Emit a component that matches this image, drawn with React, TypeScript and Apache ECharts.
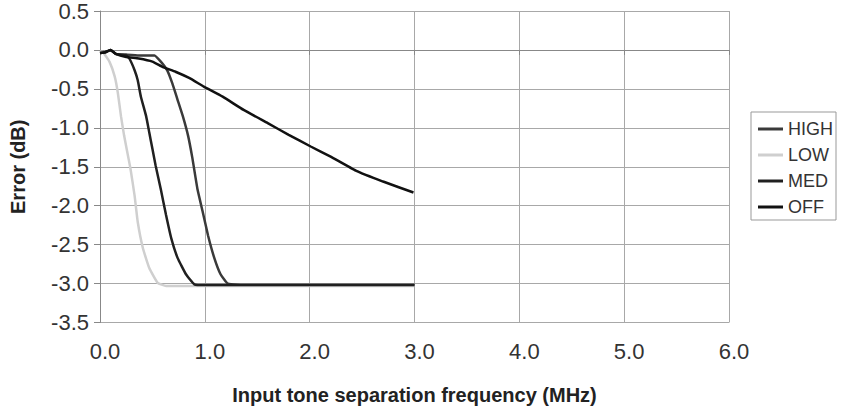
import React, { useEffect, useRef } from "react";
import * as echarts from "echarts";

const seriesNames = ["HIGH", "LOW", "MED", "OFF"];
const seriesColors = ["#3a3a3a", "#cfcfcf", "#202020", "#111111"];

const lowData: [number, number][] = [
  [0, -0.02], [0.03, -0.03], [0.09, -0.15], [0.14, -0.34], [0.17, -0.55], [0.2, -0.85],
  [0.23, -1.1], [0.26, -1.31], [0.29, -1.52], [0.33, -1.87], [0.36, -2.21], [0.41, -2.55],
  [0.47, -2.8], [0.55, -2.99], [0.63, -3.03], [0.8, -3.03], [1.0, -3.03], [2.0, -3.03], [3.0, -3.03],
];
const medData: [number, number][] = [
  [0, -0.04], [0.05, -0.03], [0.1, 0.0], [0.15, -0.05], [0.25, -0.07], [0.28, -0.11],
  [0.33, -0.26], [0.36, -0.39], [0.39, -0.6], [0.44, -0.85], [0.47, -1.06], [0.5, -1.27],
  [0.53, -1.48], [0.58, -1.79], [0.63, -2.12], [0.68, -2.42], [0.74, -2.67], [0.82, -2.88],
  [0.9, -3.01], [1.0, -3.02], [2.0, -3.02], [3.0, -3.02],
];
const highData: [number, number][] = [
  [0, -0.04], [0.05, -0.03], [0.1, 0.0], [0.15, -0.05], [0.25, -0.06], [0.37, -0.07],
  [0.52, -0.07], [0.58, -0.15], [0.64, -0.26], [0.69, -0.43], [0.74, -0.64], [0.79, -0.85],
  [0.84, -1.1], [0.88, -1.38], [0.93, -1.79], [0.98, -2.08], [1.03, -2.38], [1.09, -2.67],
  [1.15, -2.88], [1.22, -3.0], [1.4, -3.02], [2.0, -3.02], [3.0, -3.02],
];
const offData: [number, number][] = [
  [0, -0.04], [0.05, -0.03], [0.1, 0.0], [0.15, -0.05], [0.25, -0.09], [0.37, -0.11],
  [0.5, -0.15], [0.6, -0.22], [0.72, -0.28], [0.85, -0.36], [0.99, -0.47], [1.17, -0.6],
  [1.37, -0.77], [1.6, -0.94], [1.8, -1.09], [2.01, -1.24], [2.2, -1.37], [2.44, -1.55],
  [2.7, -1.69], [2.99, -1.83],
];

const seriesData = [highData, lowData, medData, offData];

const FONT = "'Liberation Sans', Arial, sans-serif";

export default function App() {
  const ref = useRef<HTMLDivElement>(null);
  useEffect(() => {
    if (!ref.current) return;
    const chart = echarts.init(ref.current, null, { renderer: "svg" });
    const drawOrder = [1, 0, 2, 3];
    chart.setOption({
      animation: false,
      backgroundColor: "#ffffff",
      textStyle: { fontFamily: FONT },
      grid: { left: 93, top: 6.5, right: 112, bottom: 89.5, containLabel: false },
      legend: {
        data: seriesNames,
        orient: "vertical",
        left: 751,
        top: 112,
        icon: "rect",
        itemWidth: 25,
        itemHeight: 3,
        itemGap: 8,
        padding: [8, 3, 4, 7],
        borderColor: "#999999",
        borderWidth: 1,
        backgroundColor: "#ffffff",
        textStyle: { fontSize: 18, color: "#333333", fontFamily: FONT, lineHeight: 18 },
      },
      xAxis: {
        type: "value",
        min: 0,
        max: 6,
        interval: 1,
        name: "Input tone separation frequency (MHz)",
        nameLocation: "middle",
        nameGap: 62,
        nameTextStyle: { fontSize: 20, fontWeight: "bold", color: "#222222", fontFamily: FONT },
        axisLine: { show: true, lineStyle: { color: "#888888", width: 1 } },
        axisTick: { show: true, length: 5, lineStyle: { color: "#888888" } },
        axisLabel: {
          fontSize: 22,
          color: "#333333",
          margin: 18,
          padding: [0, 0, 0, 10],
          formatter: (v: number) => v.toFixed(1),
        },
        splitLine: { show: true, lineStyle: { color: "#a8a8a8", width: 1 } },
      },
      yAxis: {
        type: "value",
        min: -3.5,
        max: 0.5,
        interval: 0.5,
        name: "Error (dB)",
        nameLocation: "middle",
        nameGap: 72,
        nameTextStyle: { fontSize: 20, fontWeight: "bold", color: "#222222", fontFamily: FONT },
        axisLine: { show: true, lineStyle: { color: "#888888", width: 1 } },
        axisTick: { show: true, length: 6, lineStyle: { color: "#888888" } },
        axisLabel: {
          fontSize: 22,
          color: "#333333",
          margin: 11,
          formatter: (v: number) => v.toFixed(1),
        },
        splitLine: { show: true, lineStyle: { color: "#a8a8a8", width: 1 } },
      },
      series: drawOrder.map((i) => ({
        name: seriesNames[i],
        type: "line",
        data: seriesData[i],
        showSymbol: false,
        symbol: "none",
        smooth: 0.12,
        lineStyle: { color: seriesColors[i], width: 2.5 },
        itemStyle: { color: seriesColors[i] },
        z: 2 + i,
      })),
    });
    return () => chart.dispose();
  }, []);
  return (
    <div
      ref={ref}
      style={{ position: "fixed", left: 0, top: 0, width: 841, height: 412, background: "#fff" }}
    />
  );
}
